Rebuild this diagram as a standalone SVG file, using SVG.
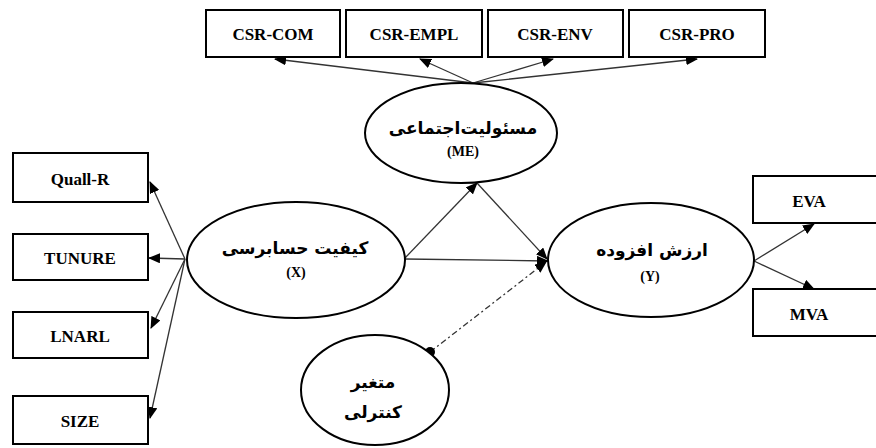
<svg xmlns="http://www.w3.org/2000/svg" width="876" height="448" viewBox="0 0 876 448">
<defs>
<marker id="ah" viewBox="0 0 12 10" refX="11" refY="5" markerWidth="12" markerHeight="10" markerUnits="userSpaceOnUse" orient="auto">
<path d="M0,0 L12,5 L0,10 z" fill="#000"/>
</marker>
<marker id="dot" viewBox="0 0 10 10" refX="5" refY="5" markerWidth="10" markerHeight="10" markerUnits="userSpaceOnUse">
<circle cx="5" cy="5" r="5" fill="#000"/>
</marker>
</defs>
<style>
.box{fill:#fff;stroke:#000;stroke-width:2}
.ell{fill:#fff;stroke:#000;stroke-width:2}
.lbl{font-family:"Liberation Serif","Times New Roman",serif;font-weight:bold;font-size:17px;fill:#000;text-anchor:middle;dominant-baseline:central}
.fa{font-family:"DejaVu Sans","Noto Sans",sans-serif;font-weight:bold;font-size:17px;fill:#000;text-anchor:middle;dominant-baseline:central}
.sm{font-family:"Liberation Serif","Times New Roman",serif;font-weight:bold;font-size:14px;fill:#000;text-anchor:middle;dominant-baseline:central}
.c{stroke:#333;stroke-width:1.3;fill:none}
</style>
<g id="connectors">
<line class="c" x1="473" y1="83" x2="275" y2="59" marker-end="url(#ah)"/>
<line class="c" x1="473" y1="83" x2="420" y2="59" marker-end="url(#ah)"/>
<line class="c" x1="473" y1="83" x2="553" y2="59" marker-end="url(#ah)"/>
<line class="c" x1="473" y1="83" x2="697" y2="59" marker-end="url(#ah)"/>
<line class="c" x1="185" y1="259" x2="150" y2="182" marker-end="url(#ah)"/>
<line class="c" x1="185" y1="259" x2="149" y2="258" marker-end="url(#ah)"/>
<line class="c" x1="185" y1="259" x2="151" y2="328" marker-end="url(#ah)"/>
<line class="c" x1="185" y1="259" x2="150" y2="418" marker-end="url(#ah)"/>
<line class="c" x1="405" y1="258" x2="477" y2="183" marker-end="url(#ah)"/>
<line class="c" x1="477" y1="183" x2="547" y2="259" marker-end="url(#ah)"/>
<line class="c" x1="405" y1="259" x2="548" y2="261" marker-end="url(#ah)"/>
<line class="c" x1="430" y1="352" x2="546" y2="262" stroke-dasharray="6,3,2,3" marker-start="url(#dot)" marker-end="url(#ah)"/>
<line class="c" x1="754" y1="261" x2="814" y2="224" marker-end="url(#ah)"/>
<line class="c" x1="754" y1="261" x2="814" y2="289" marker-end="url(#ah)"/>
</g>
<g id="csr-com"><rect class="box" x="206" y="10" width="134" height="47"/><text class="lbl" x="273" y="34">CSR-COM</text></g>
<g id="csr-empl"><rect class="box" x="346" y="10" width="136" height="47"/><text class="lbl" x="414" y="34">CSR-EMPL</text></g>
<g id="csr-env"><rect class="box" x="488" y="10" width="135" height="47"/><text class="lbl" x="555" y="34">CSR-ENV</text></g>
<g id="csr-pro"><rect class="box" x="629" y="10" width="136" height="47"/><text class="lbl" x="697" y="34">CSR-PRO</text></g>
<g id="me"><ellipse class="ell" cx="461" cy="133" rx="96" ry="50"/><text class="fa" x="463" y="128">مسئولیت‌اجتماعی</text><text class="sm" x="463" y="151">(ME)</text></g>
<g id="quall-r"><rect class="box" x="13" y="153" width="135" height="49"/><text class="lbl" x="80" y="179">Quall-R</text></g>
<g id="tunure"><rect class="box" x="13" y="234" width="135" height="46"/><text class="lbl" x="80" y="258">TUNURE</text></g>
<g id="lnarl"><rect class="box" x="13" y="312" width="135" height="46"/><text class="lbl" x="80" y="336">LNARL</text></g>
<g id="size"><rect class="box" x="13" y="396" width="135" height="48"/><text class="lbl" x="80" y="421">SIZE</text></g>
<g id="x"><ellipse class="ell" cx="296" cy="260" rx="109" ry="58"/><text class="fa" x="295" y="248">کیفیت حسابرسی</text><text class="sm" x="296" y="272">(X)</text></g>
<g id="y"><ellipse class="ell" cx="651" cy="260" rx="103" ry="57"/><text class="fa" x="652" y="250">ارزش افزوده</text><text class="sm" x="650" y="276">(Y)</text></g>
<g id="eva"><rect class="box" x="753" y="176" width="130" height="47"/><text class="lbl" x="809" y="201">EVA</text></g>
<g id="mva"><rect class="box" x="753" y="289" width="130" height="47"/><text class="lbl" x="809" y="314">MVA</text></g>
<g id="control"><ellipse class="ell" cx="375" cy="390" rx="74" ry="55"/><text class="fa" x="373" y="382">متغیر</text><text class="fa" x="373" y="412">کنترلی</text></g>
</svg>
